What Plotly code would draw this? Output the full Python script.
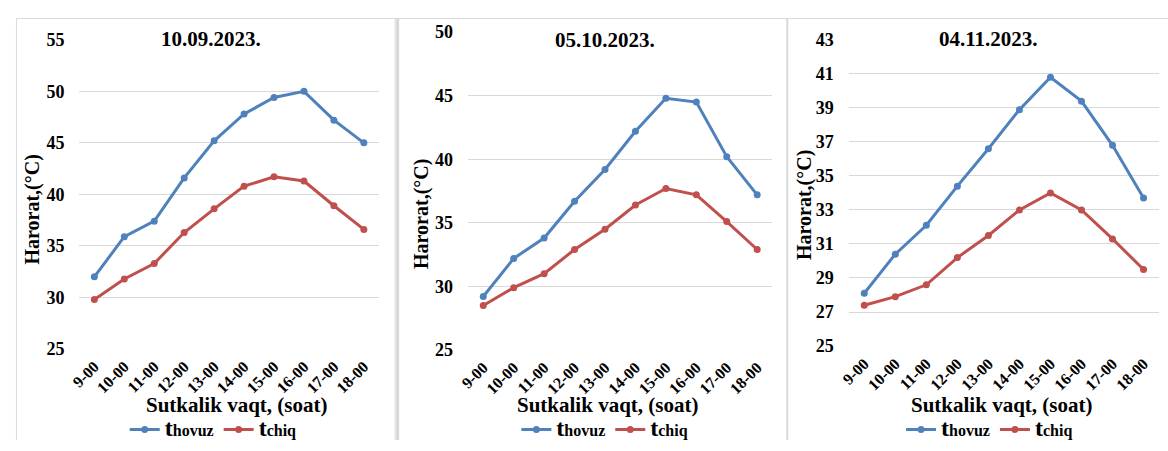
import plotly.graph_objects as go

#Code Block 1: data
hours = ['9-00', '10-00', '11-00', '12-00', '13-00', '14-00', '15-00', '16-00', '17-00', '18-00']
dates = ['10.09.2023.', '05.10.2023.', '04.11.2023.']

t_hovuz_1 = [32.0, 35.9, 37.4, 41.6, 45.2, 47.8, 49.4, 50.0, 47.2, 45.0]
t_chiq_1 = [29.8, 31.8, 33.3, 36.3, 38.6, 40.8, 41.7, 41.3, 38.9, 36.6]

t_hovuz_2 = [29.2, 32.2, 33.8, 36.7, 39.2, 42.2, 44.8, 44.5, 40.2, 37.2]
t_chiq_2 = [28.5, 29.9, 31.0, 32.9, 34.5, 36.4, 37.7, 37.2, 35.1, 32.9]

t_hovuz_3 = [28.1, 30.4, 32.1, 34.4, 36.6, 38.9, 40.8, 39.4, 36.8, 33.7]
t_chiq_3 = [27.4, 27.9, 28.6, 30.2, 31.5, 33.0, 34.0, 33.0, 31.3, 29.5]

y_ranges = [[25, 55], [25, 50], [25, 43]]
y_dticks = [5, 5, 2]

W, H = 1168, 451
FONT = '"Liberation Serif", "Times New Roman", "DejaVu Serif", serif'
BLUE = '#4F81BD'
RED = '#C0504D'
GRID = '#D9D9D9'

def px_x(v):
    return v / W

def px_y(v):
    return 1 - v / H

#pixel boxes of the three plot areas: left, right, top, bottom
boxes = [(70, 372, 32, 356), (462, 769, 24, 357), (846, 1159, 32, 353)]
title_pos = [(203, 31), (600, 32), (987, 31)]
ytitle_pos = [(23, 210), (415, 214), (802, 205)]
xtitle_pos = [(228, 414), (603, 414), (1000, 414)]
legend_x = [205, 600, 988]

series = [(t_hovuz_1, t_chiq_1), (t_hovuz_2, t_chiq_2), (t_hovuz_3, t_chiq_3)]

#Code Block 2: build the figure
fig = go.Figure()
layout = {}
annotations = []
for i, (hov, chiq) in enumerate(series):
    n = '' if i == 0 else str(i + 1)
    leg = 'legend' + n
    fig.add_trace(go.Scatter(
        x = hours, y = hov,
        name = "<b><span style='font-size:24px'>t</span>hovuz</b>",
        mode = 'lines+markers',
        line = {'color': BLUE, 'width': 3},
        marker = {'size': 7, 'color': BLUE},
        xaxis = 'x' + n, yaxis = 'y' + n,
        legend = leg))
    fig.add_trace(go.Scatter(
        x = hours, y = chiq,
        name = "<b><span style='font-size:24px'>t</span>chiq</b>",
        mode = 'lines+markers',
        line = {'color': RED, 'width': 3},
        marker = {'size': 7, 'color': RED},
        xaxis = 'x' + n, yaxis = 'y' + n,
        legend = leg))

    l, r, t, b = boxes[i]
    lo, hi = y_ranges[i]
    layout['xaxis' + n] = {
        'domain': [px_x(l), px_x(r)],
        'anchor': 'y' + n,
        'range': [-0.5, 9.5],
        'showgrid': False, 'showline': False, 'zeroline': False,
        'tickangle': -45,
        'ticklabelstandoff': 4,
        'tickfont': {'family': FONT, 'size': 16, 'color': 'black', 'weight': 'bold'}
    }
    layout['yaxis' + n] = {
        'domain': [px_y(b), px_y(t)],
        'anchor': 'x' + n,
        'range': [lo - 0.02, hi + 0.02],
        'tick0': lo, 'dtick': y_dticks[i],
        'showgrid': True, 'gridcolor': GRID, 'gridwidth': 1,
        'showline': False, 'zeroline': False,
        'ticklabelstandoff': 14,
        'tickfont': {'family': FONT, 'size': 18, 'color': 'black', 'weight': 'bold'}
    }
    layout[leg] = {
        'orientation': 'h',
        'x': px_x(legend_x[i]), 'xanchor': 'center',
        'y': px_y(440), 'yanchor': 'middle',
        'font': {'family': FONT, 'size': 16, 'color': 'black'},
        'bgcolor': 'rgba(0,0,0,0)',
        'itemwidth': 30,
        'tracegroupgap': 0
    }
    annotations.append({
        'text': '<b>' + dates[i] + '</b>', 'showarrow': False,
        'xref': 'paper', 'yref': 'paper',
        'x': px_x(title_pos[i][0]), 'y': px_y(title_pos[i][1]),
        'xanchor': 'center', 'yanchor': 'middle',
        'font': {'family': FONT, 'size': 21, 'color': 'black'}})
    annotations.append({
        'text': '<b>Harorat,(°C)</b>', 'showarrow': False, 'textangle': -90,
        'xref': 'paper', 'yref': 'paper',
        'x': px_x(ytitle_pos[i][0]), 'y': px_y(ytitle_pos[i][1]),
        'xanchor': 'center', 'yanchor': 'middle',
        'font': {'family': FONT, 'size': 20, 'color': 'black'}})
    annotations.append({
        'text': '<b>Sutkalik vaqt, (soat)</b>', 'showarrow': False,
        'xref': 'paper', 'yref': 'paper',
        'x': px_x(xtitle_pos[i][0]), 'y': px_y(xtitle_pos[i][1]),
        'xanchor': 'center', 'yanchor': 'middle',
        'font': {'family': FONT, 'size': 21, 'color': 'black'}})

#panel frames
shapes = [
    {'type': 'line', 'xref': 'paper', 'yref': 'paper', 'x0': px_x(6.5), 'x1': 1, 'y0': px_y(10), 'y1': px_y(10),
     'line': {'color': GRID, 'width': 1}},
    {'type': 'line', 'xref': 'paper', 'yref': 'paper', 'x0': px_x(6.5), 'x1': px_x(6.5), 'y0': 0, 'y1': px_y(10),
     'line': {'color': GRID, 'width': 1}},
    {'type': 'line', 'xref': 'paper', 'yref': 'paper', 'x0': px_x(388.5), 'x1': px_x(388.5), 'y0': 0, 'y1': px_y(10),
     'line': {'color': GRID, 'width': 1}},
    {'type': 'line', 'xref': 'paper', 'yref': 'paper', 'x0': px_x(391), 'x1': px_x(391), 'y0': 0, 'y1': px_y(10),
     'line': {'color': GRID, 'width': 3}},
    {'type': 'line', 'xref': 'paper', 'yref': 'paper', 'x0': px_x(784), 'x1': px_x(784), 'y0': 0, 'y1': px_y(10),
     'line': {'color': GRID, 'width': 2}},
]

#no fixed width/height: the figure fills the browser window
fig.update_layout(
    autosize = True,
    margin = {'l': 0, 'r': 0, 't': 0, 'b': 0},
    plot_bgcolor = 'white', paper_bgcolor = 'white',
    font = {'family': FONT, 'color': 'black'},
    annotations = annotations,
    shapes = shapes,
    **layout
)

#drop the page margin and scrollbars so the figure sits at the window's top-left corner
page_css = """
document.documentElement.style.margin = '0';
document.documentElement.style.overflow = 'hidden';
document.body.style.margin = '0';
document.body.style.overflow = 'hidden';
"""
fig.write_html("out.html", config = {'displayModeBar': False, 'responsive': True},
               default_width = '100vw', default_height = '100vh', post_script = page_css)
